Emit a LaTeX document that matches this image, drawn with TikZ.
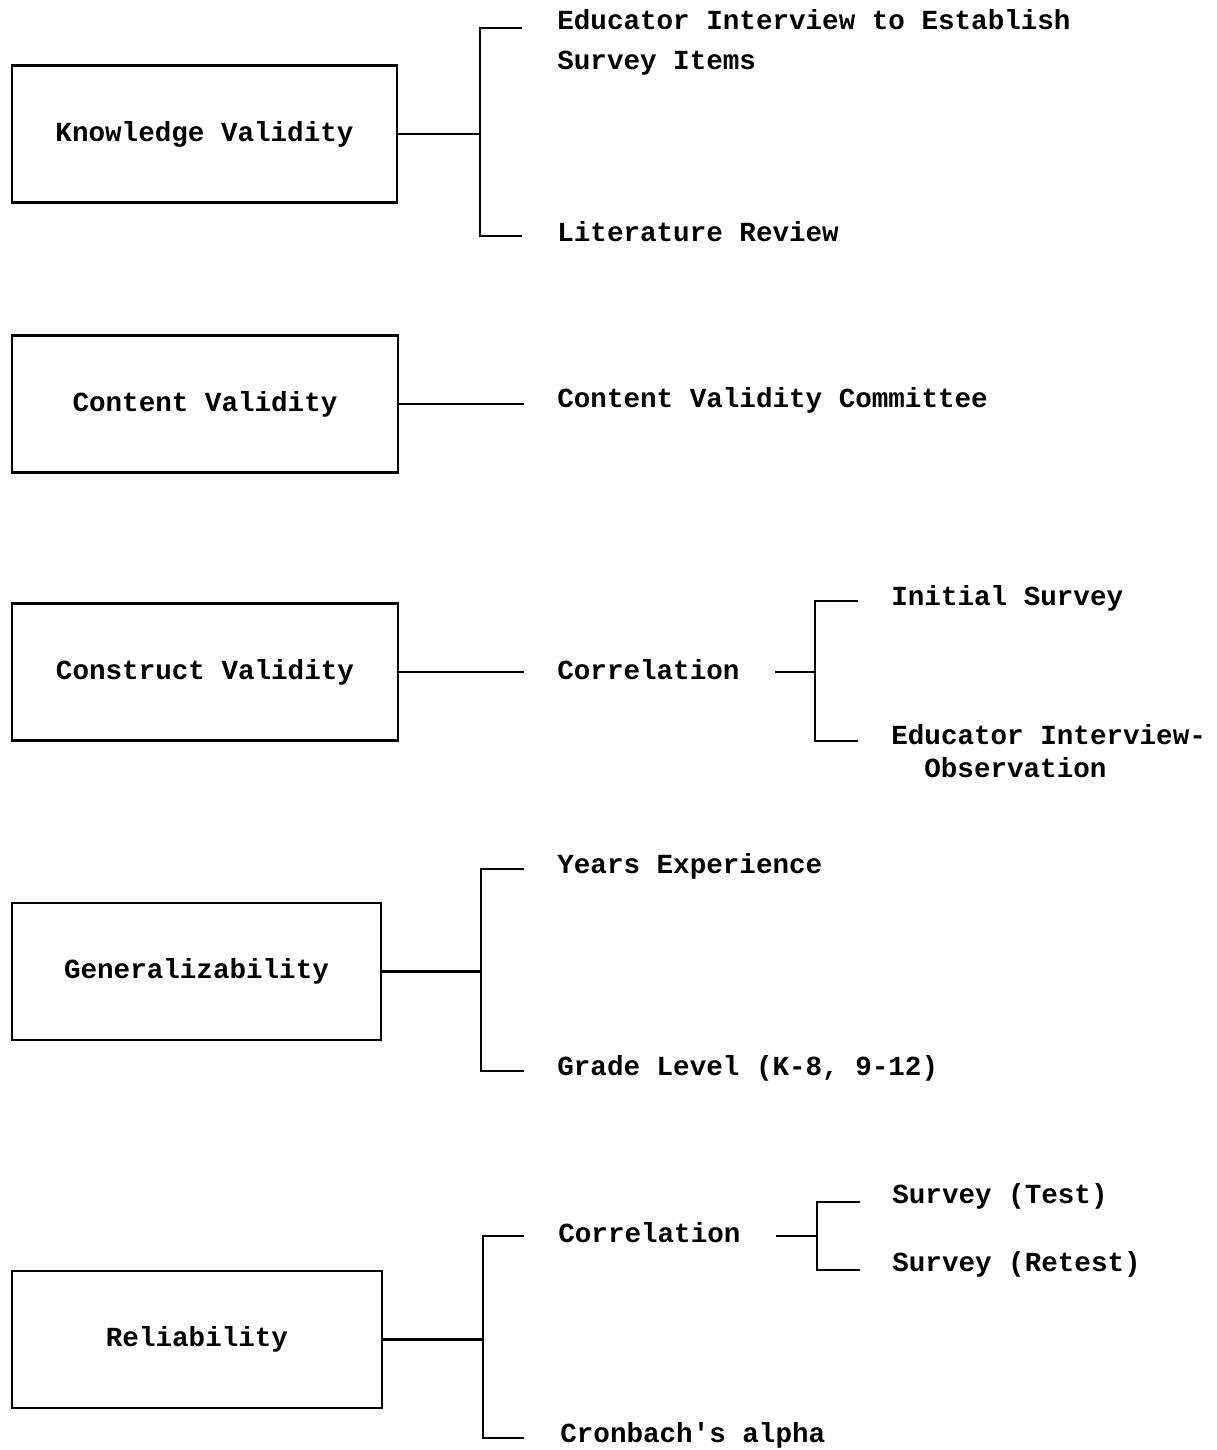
\documentclass[tikz,border=0pt]{standalone}
\usepackage{fontspec}
\newfontfamily\typer{Liberation Mono}
\usetikzlibrary{positioning,calc}

\tikzset{
  mainbox/.style={draw, line width=1.6pt, inner sep=0pt, minimum height=2.74cm,
    font=\typer\bfseries\fontsize{15.7}{18.8}\selectfont},
  item/.style={anchor=west, inner sep=0pt, align=left,
    font=\typer\bfseries\fontsize{15.7}{18.8}\selectfont},
  link/.style={line width=1.6pt},
}

\begin{document}
\begin{tikzpicture}
\useasboundingbox (0,0) rectangle (24.32,-29);

% Boxes
\node[mainbox, minimum width=7.7cm] (kv) at (4.09,-2.68) {Knowledge Validity};
\node[mainbox, minimum width=7.72cm] (cv) at (4.1,-8.08) {Content Validity};
\node[mainbox, minimum width=7.72cm] (sv) at (4.1,-13.44) {Construct Validity};
\node[mainbox, minimum width=7.38cm] (ge) at (3.93,-19.43) {Generalizability};
\node[mainbox, minimum width=7.4cm] (re) at (3.94,-26.79) {Reliability};

% Items
\node[item] (ei) at (11.14,-0.84) {Educator Interview to Establish\\[4pt]Survey Items};
\node[item] (lr) at (11.14,-4.64) {Literature Review};
\node[item] (cc) at (11.14,-8.0) {Content Validity Committee};
\node[item] (co) at (11.14,-13.4) {Correlation};
\node[item] (is) at (17.82,-11.96) {Initial Survey};
\node[item] (io) at (17.82,-15.02) {Educator Interview-\\\hspace*{0.66cm}Observation};
\node[item] (ye) at (11.14,-17.32) {Years Experience};
\node[item] (gl) at (11.14,-21.36) {Grade Level (K-8, 9-12)};
\node[item] (rc) at (11.16,-24.66) {Correlation};
\node[item] (st) at (17.84,-23.92) {Survey (Test)};
\node[item] (sr) at (17.84,-25.28) {Survey (Retest)};
\node[item] (ca) at (11.2,-28.7) {Cronbach's alpha};

% Bracket corners
\coordinate (kvj) at (9.6,-2.68);
\coordinate (kvt) at (9.6,-0.56);
\coordinate (kvb) at (9.6,-4.72);
\coordinate (kvt2) at (10.44,-0.56);
\coordinate (kvb2) at (10.44,-4.72);
\coordinate (cvj) at (10.48,-8.08);
\coordinate (svj) at (10.48,-13.44);
\coordinate (coj) at (15.5,-13.44);
\coordinate (cok) at (16.3,-13.44);
\coordinate (cot) at (16.3,-12.02);
\coordinate (cob) at (16.3,-14.82);
\coordinate (cot2) at (17.16,-12.02);
\coordinate (cob2) at (17.16,-14.82);
\coordinate (gej) at (9.62,-19.43);
\coordinate (get) at (9.62,-17.38);
\coordinate (geb) at (9.62,-21.42);
\coordinate (get2) at (10.48,-17.38);
\coordinate (geb2) at (10.48,-21.42);
\coordinate (rej) at (9.66,-26.79);
\coordinate (ret) at (9.66,-24.72);
\coordinate (reb) at (9.66,-28.76);
\coordinate (ret2) at (10.48,-24.72);
\coordinate (reb2) at (10.48,-28.76);
\coordinate (rcj) at (15.52,-24.72);
\coordinate (rck) at (16.34,-24.72);
\coordinate (rct) at (16.34,-24.04);
\coordinate (rcb) at (16.34,-25.4);
\coordinate (rct2) at (17.2,-24.04);
\coordinate (rcb2) at (17.2,-25.4);

% Connectors
\draw[link] (kv.east) -- (kvj);
\draw[link] (kvt2) -- (kvt) -- (kvb) -- (kvb2);
\draw[link] (cv.east) -- (cvj);
\draw[link] (sv.east) -- (svj);
\draw[link] (coj) -- (cok);
\draw[link] (cot2) -- (cot) -- (cob) -- (cob2);
\draw[link] (ge.east) -- (gej);
\draw[link] (get2) -- (get) -- (geb) -- (geb2);
\draw[link] (re.east) -- (rej);
\draw[link] (ret2) -- (ret) -- (reb) -- (reb2);
\draw[link] (rcj) -- (rck);
\draw[link] (rct2) -- (rct) -- (rcb) -- (rcb2);

\end{tikzpicture}
\end{document}
